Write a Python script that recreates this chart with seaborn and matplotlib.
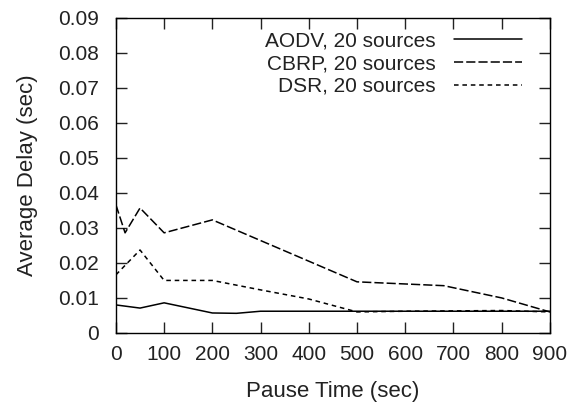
import numpy as np
import pandas as pd
import matplotlib
matplotlib.use("Agg")
import matplotlib.pyplot as plt
import seaborn as sns

# Data
aodv_x = [0, 50, 100, 200, 250, 300, 900]
aodv_y = [0.0080, 0.0071, 0.0086, 0.0057, 0.0056, 0.0062, 0.0062]
cbrp_x = [0, 19, 50, 100, 200, 500, 680, 800, 900]
cbrp_y = [0.0366, 0.0286, 0.0357, 0.0286, 0.0323, 0.0146, 0.0135, 0.0100, 0.0060]
dsr_x = [0, 50, 100, 200, 300, 400, 500, 600, 800, 900]
dsr_y = [0.0166, 0.0237, 0.0150, 0.0150, 0.0123, 0.0097, 0.0060, 0.0062, 0.0064, 0.0060]
labels = ["AODV, 20 sources", "CBRP, 20 sources", "DSR, 20 sources"]
x_ticks = [0, 100, 200, 300, 400, 500, 600, 700, 800, 900]
y_ticks = [0, 0.01, 0.02, 0.03, 0.04, 0.05, 0.06, 0.07, 0.08, 0.09]
y_ticklabels = ["0", "0.01", "0.02", "0.03", "0.04", "0.05", "0.06", "0.07", "0.08", "0.09"]

df = pd.concat([
    pd.DataFrame({"x": aodv_x, "y": aodv_y, "series": labels[0]}),
    pd.DataFrame({"x": cbrp_x, "y": cbrp_y, "series": labels[1]}),
    pd.DataFrame({"x": dsr_x, "y": dsr_y, "series": labels[2]}),
])

sns.set_style("ticks")
plt.rcParams["font.family"] = ["Liberation Sans", "DejaVu Sans"]

fig = plt.figure(figsize=(5.71, 4.08), dpi=100)
ax = fig.add_axes([0.203, 0.184, 0.76, 0.772])

dashes = {labels[0]: "", labels[1]: (6, 2), labels[2]: (3, 2.5)}
sns.lineplot(data=df, x="x", y="y", hue="series", style="series",
             palette=["black"] * 3, dashes=dashes, linewidth=1.1,
             ax=ax, sort=False, estimator=None)

ax.set_xlim(0, 900)
ax.set_ylim(0, 0.09)
ax.set_xticks(x_ticks)
ax.set_yticks(y_ticks)
ax.set_yticklabels(y_ticklabels)
ax.tick_params(direction="in", length=8, width=1, top=True, right=True,
               labelsize=15, colors="#222222", pad=12)
ax.tick_params(axis="x", pad=9)
for s in ax.spines.values():
    s.set_visible(True)
    s.set_linewidth(1.0)
    s.set_color("black")
ax.set_xlabel("Pause Time (sec)", fontsize=16, labelpad=12, color="#222222")
ax.set_ylabel("Average Delay (sec)", fontsize=16, labelpad=15, color="#222222")

leg = ax.legend(loc="upper right", bbox_to_anchor=(0.956, 0.984),
                borderaxespad=0.0, markerfirst=False, frameon=False,
                fontsize=15, handlelength=3.3, handletextpad=0.87,
                labelspacing=0.18)
for t in leg.get_texts():
    t.set_color("#222222")

fig.savefig("out.png", dpi=100)
